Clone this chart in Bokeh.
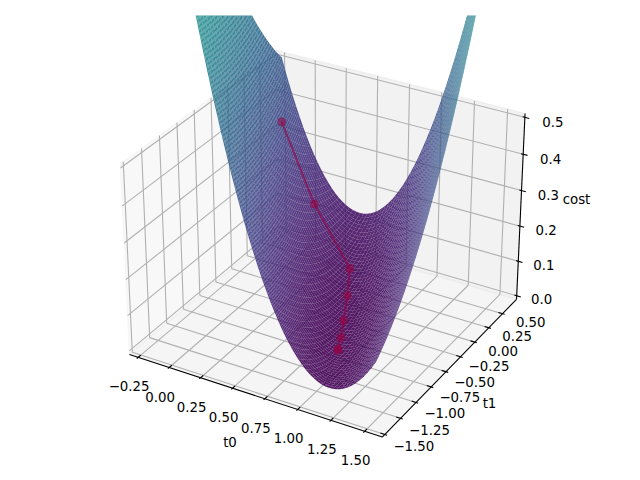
import numpy as np
from bokeh.plotting import figure
from bokeh.models import Range1d, ColumnDataSource
from bokeh.core.properties import value
from bokeh.palettes import Viridis256
from bokeh.embed import file_html
from bokeh.resources import INLINE

# ---- chart values ----
t0_ticks = [-0.25, 0.0, 0.25, 0.5, 0.75, 1.0, 1.25, 1.5]
t1_ticks = [-1.5, -1.25, -1.0, -0.75, -0.5, -0.25, 0.0, 0.25, 0.5]
z_ticks = [0.0, 0.1, 0.2, 0.3, 0.4, 0.5]
t0_labels = ["\u22120.25", "0.00", "0.25", "0.50", "0.75", "1.00", "1.25", "1.50"]
t1_labels = ["\u22121.50", "\u22121.25", "\u22121.00", "\u22120.75", "\u22120.50", "\u22120.25", "0.00", "0.25", "0.50"]
z_labels = ["0.0", "0.1", "0.2", "0.3", "0.4", "0.5"]
t0_lim = (-0.32, 1.63)
t1_lim = (-1.54, 0.76)
z_lim = (-0.0104, 0.5104)
t0_domain = (-0.235, 1.48)
t1_domain = (-1.33, 0.685)
# gradient-descent path
path_t0 = [-0.01, 0.225, 0.58, 0.692, 0.796, 0.875, 0.925, 0.935]
path_t1 = [0.2353, 0.2878, 0.1478, -0.1276, -0.4031, -0.613, -0.7616, -0.7835]
path_z = [0.408, 0.191, 0.062, 0.0394, 0.0246, 0.0183, 0.0175, 0.0175]
# cost bowl coefficients
bowl_a, bowl_slope, bowl_offset, bowl_curv, bowl_t1, bowl_floor = 0.95, 0.366, 0.650, 0.0484, -0.814, 0.016

# ---- mplot3d-style projection (elev 30, azim -60) ----
box = np.array([4, 4, 3]) * 1.8294640721620434 * 25 / 24 / np.sqrt(41)
W = np.array([0.75**0.5 * 0.5, -(0.75**0.5) * 0.75**0.5, 0.5])
U = np.array([0.75**0.5, 0.5, 0.0])
V = np.cross(W, U)
AX_L, AX_B, AX_S = 95.0, 465.0, 450.0


def quant(t0, t1, z):
    t0, t1, z = np.asarray(t0, float), np.asarray(t1, float), np.asarray(z, float)
    qx = ((t0 - t0_lim[0]) / (t0_lim[1] - t0_lim[0]) - 0.5) * box[0]
    qy = ((t1 - t1_lim[0]) / (t1_lim[1] - t1_lim[0]) - 0.5) * box[1]
    qz = ((z - z_lim[0]) / (z_lim[1] - z_lim[0]) - 0.5) * box[2]
    return qx, qy, qz


def proj(t0, t1, z):
    qx, qy, qz = quant(t0, t1, z)
    den = 10 - (W[0] * qx + W[1] * qy + W[2] * qz)
    xp = (U[0] * qx + U[1] * qy + U[2] * qz) / den
    yp = (V[0] * qx + V[1] * qy + V[2] * qz) / den
    return AX_L + AX_S * (xp + 0.095) / 0.185, AX_B - AX_S * (yp + 0.095) / 0.185


def depth(t0, t1, z):
    qx, qy, qz = quant(t0, t1, z)
    return W[0] * qx + W[1] * qy + W[2] * qz


def seg3d(a, b):
    x, y = proj([a[0], b[0]], [a[1], b[1]], [a[2], b[2]])
    return list(x), list(y)


p = figure(width=640, height=480, x_range=Range1d(0, 640), y_range=Range1d(480, 15),
           toolbar_location=None, output_backend="svg", min_border_left=0, min_border_right=0,
           min_border_top=15, min_border_bottom=0, outline_line_color=None, background_fill_color="white")
p.axis.visible = False
p.grid.visible = False

x0, x1 = t0_lim
y0, y1 = t1_lim
z0, z1 = z_lim

# panes
panes = [
    ([x0, x0, x0, x0], [y0, y1, y1, y0], [z0, z0, z1, z1], (0.95, 0.95, 0.95)),
    ([x0, x1, x1, x0], [y1, y1, y1, y1], [z0, z0, z1, z1], (0.90, 0.90, 0.90)),
    ([x0, x1, x1, x0], [y0, y0, y1, y1], [z0, z0, z0, z0], (0.925, 0.925, 0.925)),
]
for a, b, c, col in panes:
    px, py = proj(a, b, c)
    rgb = "#%02x%02x%02x" % tuple(int(v * 255) for v in col)
    p.patch(list(px), list(py), fill_color=rgb, fill_alpha=0.5, line_color=rgb, line_alpha=0.5, line_width=1.1)

# grid
gx, gy = [], []
for t in t0_ticks:
    for a, b in [((t, y0, z0), (t, y1, z0)), ((t, y1, z0), (t, y1, z1))]:
        sx, sy = seg3d(a, b); gx.append(sx); gy.append(sy)
for t in t1_ticks:
    for a, b in [((x0, t, z0), (x1, t, z0)), ((x0, t, z0), (x0, t, z1))]:
        sx, sy = seg3d(a, b); gx.append(sx); gy.append(sy)
for t in z_ticks:
    for a, b in [((x0, y0, t), (x0, y1, t)), ((x0, y1, t), (x1, y1, t))]:
        sx, sy = seg3d(a, b); gx.append(sx); gy.append(sy)
p.multi_line(gx, gy, line_color="#b0b0b0", line_width=1.1)

# axis lines and tick marks
ax_x, ax_y = [], []
for a, b in [((x0, y0, z0), (x1, y0, z0)), ((x1, y0, z0), (x1, y1, z0)), ((x1, y1, z0), (x1, y1, z1))]:
    sx, sy = seg3d(a, b); ax_x.append(sx); ax_y.append(sy)
dt0 = (x1 - x0) / 12
dt1 = (y1 - y0) / 12
for t in t0_ticks:
    sx, sy = seg3d((t, y0 + 0.2 * dt1, z0), (t, y0 - 0.1 * dt1, z0)); ax_x.append(sx); ax_y.append(sy)
for t in t1_ticks:
    sx, sy = seg3d((x1 - 0.2 * dt0, t, z0), (x1 + 0.1 * dt0, t, z0)); ax_x.append(sx); ax_y.append(sy)
for t in z_ticks:
    sx, sy = seg3d((x1 - 0.1 * dt0, y1, t), (x1 + 0.2 * dt0, y1, t)); ax_x.append(sx); ax_y.append(sy)
p.multi_line(ax_x, ax_y, line_color="black", line_width=1.1)

# tick labels and axis titles
lx, ly, lt = [], [], []
tx, ty = proj(t0_ticks, [y0] * len(t0_ticks), [z0] * len(t0_ticks))
for a, b, s in zip(tx, ty, t0_labels):
    lx.append(a - 9); ly.append(b + 29); lt.append(s)
tx, ty = proj([x1] * len(t1_ticks), t1_ticks, [z0] * len(t1_ticks))
for i, (a, b, s) in enumerate(zip(tx, ty, t1_labels)):
    lx.append(a + 29 - 0.1 * i); ly.append(b + 12 - 0.5 * i); lt.append(s)
tx, ty = proj([x1] * len(z_ticks), [y1] * len(z_ticks), z_ticks)
for i, (a, b, s) in enumerate(zip(tx, ty, z_labels)):
    lx.append(a + 25 + 0.6 * i); ly.append(b + 3 + 0.4 * i); lt.append(s)
lx += [229.5, 489, 576]; ly += [442, 403, 199]; lt += ["t0", "t1", "cost"]
p.text(lx, ly, text=lt, text_font=value("DejaVu Sans"), text_font_size=value("13.33px"),
       text_align="center", text_baseline="middle", text_color="black")

# surface
g0 = np.linspace(*t0_domain, 60)
g1 = np.linspace(*t1_domain, 60)
T0, T1 = np.meshgrid(g0, g1)
Z = bowl_a * (T0 + bowl_slope * T1 - bowl_offset) ** 2 + bowl_curv * (T1 - bowl_t1) ** 2 + bowl_floor
PX, PY = proj(T0, T1, Z)


def cells(a):
    return np.stack([a[:-1, :-1], a[:-1, 1:], a[1:, 1:], a[1:, :-1]], axis=-1).reshape(-1, 4)


cx, cy = cells(PX), cells(PY)
ct0, ct1, cz = cells(T0), cells(T1), cells(Z)
zavg = cz.mean(axis=1)
norm = (zavg - zavg.min()) / (zavg.max() - zavg.min())
cols = np.array([Viridis256[min(255, int(v * 256))] for v in norm])
order = np.argsort(depth(ct0.mean(axis=1), ct1.mean(axis=1), zavg))
keep = [i for i in order if cy[i].max() >= 15]
src = ColumnDataSource(dict(xs=[list(cx[i]) for i in keep], ys=[list(cy[i]) for i in keep], c=list(cols[keep])))
p.patches("xs", "ys", source=src, fill_color="c", fill_alpha=0.9, line_color=None)

# path
hx, hy = proj(path_t0, path_t1, path_z)
p.line(list(hx), list(hy), line_color="#980040", line_alpha=0.6, line_width=2)
p.scatter(list(hx), list(hy), size=8, marker="circle", fill_color="#980040", fill_alpha=0.5,
          line_color="#980040", line_alpha=0.3, line_width=1)

open("out.html", "w").write(file_html(p, INLINE))
